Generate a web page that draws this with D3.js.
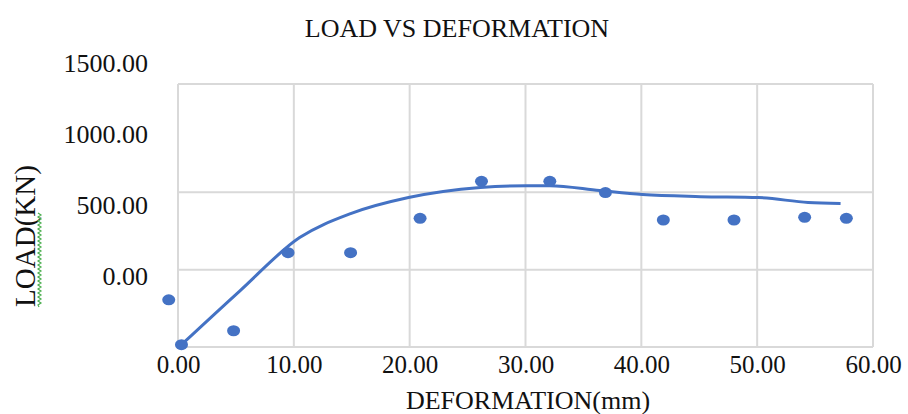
<!DOCTYPE html>
<html>
<head>
<meta charset="utf-8">
<script src="https://cdn.jsdelivr.net/npm/d3@7/dist/d3.min.js"></script>
<style>
  body { margin: 0; background: #fff; }
  text { font-family: "Liberation Serif", "Times New Roman", serif; fill: #111; }
</style>
</head>
<body>
<div id="chart"></div>
<script>
// measured points (deformation mm, load kN)
var deform = [-0.8, 0.3, 4.8, 9.5, 14.9, 20.9, 26.2, 32.1, 36.9, 41.9, 48.0, 54.1, 57.7];
var load   = [-195, -485, -395, 110, 110, 332, 571, 571, 498, 321, 321, 338, 332];

// fitted trend curve
var trendX = [0.3, 5.3, 10.5, 14.9, 19.9, 26.1, 30.1, 32.1, 36.4, 40.1, 45.1, 50.1, 54.4, 57.2];
var trendY = [-485, -140, 207, 362, 466, 531, 543, 543, 511, 485, 472, 466, 434, 427];

var xTicks = [0, 10, 20, 30, 40, 50, 60];
var yGrid = [-500, 0, 500, 1200];
var yLabels = [0, 500, 1000, 1500];

var margin = { top: 84, right: 35, bottom: 67, left: 178 };
var W = 908, H = 414;
var width = W - margin.left - margin.right,
    height = H - margin.top - margin.bottom;

var svg = d3.select('#chart').append('svg')
  .attr('width', W).attr('height', H)
  .style('background', '#fff');

var xS = d3.scaleLinear().domain([0, 60]).range([0, width]);
var yS = d3.scaleLinear().domain([-500, 1200]).range([height, 0]);
// the tick labels in the picture do not sit on the gridlines
var yLab = d3.scaleLinear().domain([0, 1500]).range([276 - margin.top, 63 - margin.top]);

var g = svg.append('g')
  .attr('transform', 'translate(' + margin.left + ',' + margin.top + ')');

// gridlines
g.append('g').selectAll('line.v')
  .data(xTicks).enter().append('line')
  .attr('x1', function(d) { return xS(d); })
  .attr('x2', function(d) { return xS(d); })
  .attr('y1', 0).attr('y2', height)
  .style('stroke', '#d9d9d9').style('stroke-width', 2);
g.append('g').selectAll('line.h')
  .data(yGrid).enter().append('line')
  .attr('x1', 0).attr('x2', width)
  .attr('y1', function(d) { return yS(d); })
  .attr('y2', function(d) { return yS(d); })
  .style('stroke', '#d9d9d9').style('stroke-width', 2);

// x axis labels
var xa = g.append('g')
  .attr('transform', 'translate(0,' + height + ')')
  .call(d3.axisBottom(xS).tickValues(xTicks).tickSize(0).tickPadding(8).tickFormat(d3.format('.2f')));
xa.select('.domain').remove();
xa.selectAll('text').style('font-size', '25px').style('font-family', '"Liberation Serif", serif').attr('fill', '#111');

// y axis labels
var ya = g.append('g')
  .attr('transform', 'translate(-30,0)')
  .call(d3.axisLeft(yLab).tickValues(yLabels).tickSize(0).tickPadding(0).tickFormat(d3.format('.2f')));
ya.select('.domain').remove();
ya.selectAll('text').style('font-size', '26px').style('font-family', '"Liberation Serif", serif').attr('fill', '#111');

// trend line
var trend = trendX.map(function(d, i) { return [d, trendY[i]]; });
g.append('path')
  .datum(trend)
  .attr('fill', 'none')
  .attr('stroke', '#4472c4')
  .attr('stroke-width', 3)
  .attr('d', d3.line()
    .x(function(d) { return xS(d[0]); })
    .y(function(d) { return yS(d[1]); })
    .curve(d3.curveMonotoneX));

// points
g.selectAll('ellipse')
  .data(deform).enter().append('ellipse')
  .attr('cx', function(d) { return xS(d); })
  .attr('cy', function(d, i) { return yS(load[i]); })
  .attr('rx', 6.5).attr('ry', 5.5)
  .style('fill', '#4472c4');

// titles
svg.append('text')
  .attr('x', 457).attr('y', 37)
  .attr('text-anchor', 'middle')
  .style('font-size', '26px')
  .text('LOAD VS DEFORMATION');

svg.append('text')
  .attr('x', 528).attr('y', 409)
  .attr('text-anchor', 'middle')
  .style('font-size', '26px')
  .text('DEFORMATION(mm)');

svg.append('text')
  .attr('transform', 'translate(35,236) rotate(-90)')
  .attr('text-anchor', 'middle')
  .style('font-size', '29px')
  .text('LOAD(KN)');

// green spell-check squiggle under "LOAD"
var sq = d3.path();
var sx = 39, y0 = 307, y1 = 213;
sq.moveTo(sx, y0);
for (var yy = y0, k = 0; yy > y1; yy -= 2, k++) {
  sq.lineTo(sx + (k % 2 ? 2 : -1), yy - 2);
}
svg.append('path')
  .attr('d', sq.toString())
  .attr('fill', 'none')
  .attr('stroke', '#4caf50')
  .attr('stroke-width', 1.2);
</script>
</body>
</html>
